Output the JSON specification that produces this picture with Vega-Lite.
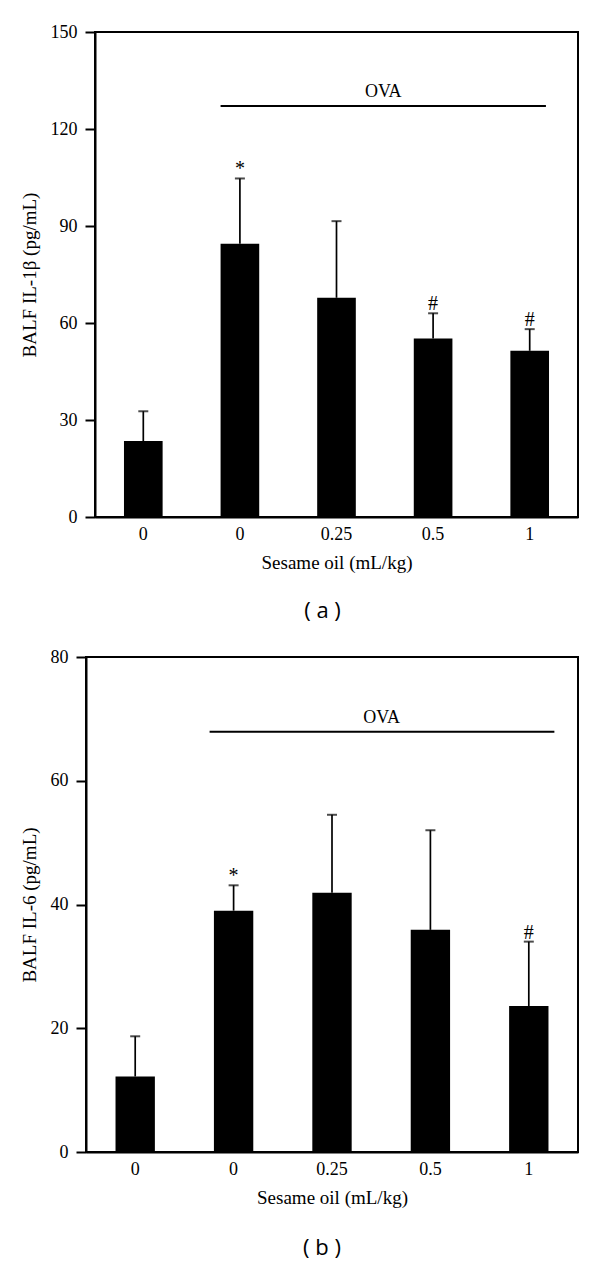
{
  "$schema": "https://vega.github.io/schema/vega-lite/v6.json",
  "padding": {"left": 19, "top": 22, "right": 5, "bottom": 5},
  "background": "white",
  "config": {
    "view": {"stroke": "black", "strokeWidth": 2},
    "font": "Liberation Serif",
    "axis": {
      "labelFont": "Liberation Serif", "titleFont": "Liberation Serif",
      "labelFontSize": 18, "titleFontSize": 19, "titleFontWeight": "normal",
      "labelColor": "black", "titleColor": "black",
      "domainColor": "black", "domainWidth": 2,
      "tickColor": "black", "tickWidth": 2, "grid": false
    },
    "title": {"font": "Open Sans", "fontSize": 22, "fontWeight": "normal", "orient": "bottom", "color": "black", "anchor": "middle"}
  },
  "datasets": {
    "il1b": [
      {"group": "Control", "mean": 23.5, "upper": 32.7, "sig": ""},
      {"group": "OVA", "mean": 84.5, "upper": 104.7, "sig": "*"},
      {"group": "OVA+0.25", "mean": 67.8, "upper": 91.5, "sig": ""},
      {"group": "OVA+0.5", "mean": 55.2, "upper": 63.0, "sig": "#"},
      {"group": "OVA+1", "mean": 51.4, "upper": 58.1, "sig": "#"}
    ],
    "il6": [
      {"group": "Control", "mean": 12.2, "upper": 18.7, "sig": ""},
      {"group": "OVA", "mean": 39.0, "upper": 43.1, "sig": "*"},
      {"group": "OVA+0.25", "mean": 41.9, "upper": 54.5, "sig": ""},
      {"group": "OVA+0.5", "mean": 35.9, "upper": 52.0, "sig": ""},
      {"group": "OVA+1", "mean": 23.6, "upper": 34.0, "sig": "#"}
    ],
    "ova_a": [
      {"start": "OVA", "end": "OVA+1", "mid": "OVA+0.25", "level": 127.1, "label": "OVA"}
    ],
    "ova_b": [
      {"start": "OVA", "end": "OVA+1", "mid": "OVA+0.25", "level": 67.9, "label": "OVA"}
    ]
  },
  "vconcat": [
    {
      "hconcat": [
        {
          "width": 1,
          "height": 1,
          "view": {"stroke": "transparent"},
          "data": {"values": [{"k": 0}]},
          "mark": {"type": "point", "opacity": 0}
        },
        {
          "title": {"text": "( a )", "dx": -14, "offset": 29},
          "width": 483,
          "height": 485,
          "layer": [
            {
              "data": {"name": "il1b"},
              "mark": {"type": "bar", "color": "black"},
              "encoding": {
                "x": {
                  "field": "group", "type": "nominal", "sort": null,
                  "scale": {"domain": ["Control", "OVA", "OVA+0.25", "OVA+0.5", "OVA+1"], "paddingInner": 0.6, "paddingOuter": 0.3},
                  "axis": {
                    "title": "Sesame oil (mL/kg)", "ticks": false, "labelPadding": 8, "labelAngle": 0, "titlePadding": 10,
                    "labelExpr": "datum.value == 'Control' || datum.value == 'OVA' ? '0' : replace(datum.value, 'OVA+', '')"
                  }
                },
                "y": {
                  "field": "mean", "type": "quantitative",
                  "scale": {"domain": [0, 150], "nice": false},
                  "axis": {"title": "BALF IL-1β (pg/mL)", "values": [0, 30, 60, 90, 120, 150], "tickSize": 10, "labelPadding": 8, "titlePadding": 11}
                }
              }
            },
            {
              "data": {"name": "il1b"},
              "mark": {"type": "rule", "color": "black", "strokeWidth": 1.7},
              "encoding": {
                "x": {"field": "group", "type": "nominal", "sort": null},
                "y": {"field": "mean", "type": "quantitative"},
                "y2": {"field": "upper"}
              }
            },
            {
              "data": {"name": "il1b"},
              "mark": {"type": "tick", "color": "black", "size": 10, "thickness": 2, "orient": "horizontal"},
              "encoding": {
                "x": {"field": "group", "type": "nominal", "sort": null},
                "y": {"field": "upper", "type": "quantitative"}
              }
            },
            {
              "data": {"name": "il1b"},
              "mark": {"type": "text", "color": "black", "fontSize": 20, "baseline": "alphabetic", "dy": -3, "font": "Liberation Serif"},
              "encoding": {
                "x": {"field": "group", "type": "nominal", "sort": null},
                "y": {"field": "upper", "type": "quantitative"},
                "text": {"field": "sig"}
              }
            },
            {
              "data": {"name": "ova_a"},
              "mark": {"type": "rule", "color": "black", "strokeWidth": 2},
              "encoding": {
                "x": {"field": "start", "type": "nominal", "bandPosition": 0},
                "x2": {"field": "end", "bandPosition": 0.92},
                "y": {"field": "level", "type": "quantitative"}
              }
            },
            {
              "data": {"name": "ova_a"},
              "mark": {"type": "text", "color": "black", "fontSize": 18, "baseline": "alphabetic", "dy": -9, "font": "Liberation Serif"},
              "encoding": {
                "x": {"field": "mid", "type": "nominal", "bandPosition": 1.71},
                "y": {"field": "level", "type": "quantitative"},
                "text": {"field": "label"}
              }
            }
          ]
        }
      ],
      "spacing": 8,
      "bounds": "flush"
    },
    {
      "title": {"text": "( b )", "dx": -10, "offset": 31},
      "width": 492,
      "height": 495,
      "layer": [
        {
          "data": {"name": "il6"},
          "mark": {"type": "bar", "color": "black"},
          "encoding": {
            "x": {
              "field": "group", "type": "nominal", "sort": null,
              "scale": {"domain": ["Control", "OVA", "OVA+0.25", "OVA+0.5", "OVA+1"], "paddingInner": 0.6, "paddingOuter": 0.3},
              "axis": {
                "title": "Sesame oil (mL/kg)", "ticks": false, "labelPadding": 8, "labelAngle": 0, "titlePadding": 10,
                "labelExpr": "datum.value == 'Control' || datum.value == 'OVA' ? '0' : replace(datum.value, 'OVA+', '')"
              }
            },
            "y": {
              "field": "mean", "type": "quantitative",
              "scale": {"domain": [0, 80], "nice": false},
              "axis": {"title": "BALF IL-6 (pg/mL)", "values": [0, 20, 40, 60, 80], "tickSize": 10, "labelPadding": 8, "titlePadding": 11}
            }
          }
        },
        {
          "data": {"name": "il6"},
          "mark": {"type": "rule", "color": "black", "strokeWidth": 1.7},
          "encoding": {
            "x": {"field": "group", "type": "nominal", "sort": null},
            "y": {"field": "mean", "type": "quantitative"},
            "y2": {"field": "upper"}
          }
        },
        {
          "data": {"name": "il6"},
          "mark": {"type": "tick", "color": "black", "size": 10, "thickness": 2, "orient": "horizontal"},
          "encoding": {
            "x": {"field": "group", "type": "nominal", "sort": null},
            "y": {"field": "upper", "type": "quantitative"}
          }
        },
        {
          "data": {"name": "il6"},
          "mark": {"type": "text", "color": "black", "fontSize": 20, "baseline": "alphabetic", "dy": -3, "font": "Liberation Serif"},
          "encoding": {
            "x": {"field": "group", "type": "nominal", "sort": null},
            "y": {"field": "upper", "type": "quantitative"},
            "text": {"field": "sig"}
          }
        },
        {
          "data": {"name": "ova_b"},
          "mark": {"type": "rule", "color": "black", "strokeWidth": 2},
          "encoding": {
            "x": {"field": "start", "type": "nominal", "bandPosition": -0.11},
            "x2": {"field": "end", "bandPosition": 1.15},
            "y": {"field": "level", "type": "quantitative"}
          }
        },
        {
          "data": {"name": "ova_b"},
          "mark": {"type": "text", "color": "black", "fontSize": 18, "baseline": "alphabetic", "dy": -9, "font": "Liberation Serif"},
          "encoding": {
            "x": {"field": "mid", "type": "nominal", "bandPosition": 1.76},
            "y": {"field": "level", "type": "quantitative"},
            "text": {"field": "label"}
          }
        }
      ]
    }
  ],
  "spacing": 24
}
